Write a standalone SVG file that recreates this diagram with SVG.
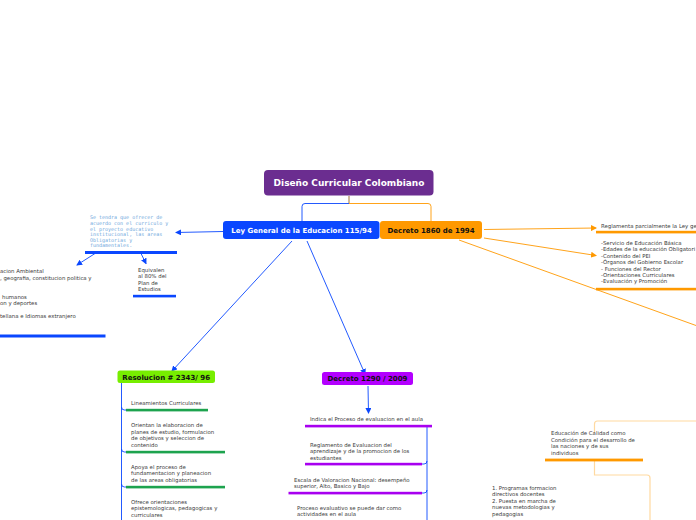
<svg xmlns="http://www.w3.org/2000/svg" width="696" height="520" viewBox="0 0 696 520">
<defs>
<style>
.t{font-family:"DejaVu Sans",Verdana,sans-serif;font-size:5.4px;fill:#3a3a3a}
.n{font-family:"DejaVu Sans",Verdana,sans-serif;font-weight:bold;font-size:7px}
.m{font-family:"DejaVu Sans Mono",monospace;font-size:5px;fill:#6fa8dc}
.bl{stroke:#0a47ff;fill:none;stroke-width:0.9}
.or{stroke:#ff9900;fill:none;stroke-width:0.9}
.lo{stroke:#ffd9a0;fill:none;stroke-width:1.2}
</style>
<marker id="ab" markerWidth="6" markerHeight="6" refX="5" refY="3" orient="auto" markerUnits="userSpaceOnUse"><path d="M0,0 L6,3 L0,6 z" fill="#0a47ff"/></marker>
<marker id="ao" markerWidth="6" markerHeight="6" refX="5" refY="3" orient="auto" markerUnits="userSpaceOnUse"><path d="M0,0 L6,3 L0,6 z" fill="#ff9900"/></marker>
</defs>
<rect width="696" height="520" fill="#fff"/>
<g id="connectors">
<path d="M349,196 V203.5" stroke="#b08a5a" stroke-width="1.2" fill="none"/>
<path class="bl" d="M349,203.5 H305 Q302,203.5 302,206.5 V221"/>
<path class="or" d="M349,203.5 H428 Q431,203.5 431,206.5 V221"/>
<path class="bl" d="M223,231.5 L176,232.5" marker-end="url(#ab)"/>
<path class="bl" d="M95,253.5 L77,265" marker-end="url(#ab)"/>
<path class="bl" d="M141,253.5 L146,263.5" marker-end="url(#ab)"/>
<path class="bl" d="M292,241 L172,371" marker-end="url(#ab)"/>
<path class="bl" d="M307,241 L365,374" marker-end="url(#ab)"/>
<path class="bl" d="M368,386 L368.5,413" marker-end="url(#ab)"/>
<path class="bl" d="M121.5,383 V520 M121.5,407 Q121.5,410 124.5,410 H126 M121.5,449 Q121.5,452 124.5,452 H126 M121.5,484 Q121.5,487 124.5,487 H126"/>
<path class="bl" d="M427,426 V520 M427,461 Q427,464 424,464 H422 M427,490 Q427,493 424,493 H422"/>
<path class="or" d="M484,229.5 L596,228" marker-end="url(#ao)"/>
<path class="or" d="M484,238 L596,255.5" marker-end="url(#ao)"/>
<path class="or" d="M459,240 L696,325.5"/>
<path class="lo" d="M594.5,433 V424 Q594.5,421 597.5,421 H696"/>
<path class="lo" d="M594.5,461 V475 H647 Q650,475 650,478 V520"/>
</g>
<g id="root">
<rect x="264" y="170" width="169.5" height="25.5" rx="4" fill="#6b2d90"/>
<text x="349" y="186.2" text-anchor="middle" class="n" style="font-size:9px" fill="#fff">Diseño Curricular Colombiano</text>
</g>
<g id="ley">
<rect x="223" y="221" width="156.5" height="18" rx="3" fill="#0a47ff"/>
<text x="301.5" y="232.6" text-anchor="middle" class="n" fill="#fff">Ley General de la Educacion 115/94</text>
</g>
<g id="decreto1860">
<rect x="380" y="221" width="102" height="18" rx="3" fill="#ff9900"/>
<text x="431" y="232.6" text-anchor="middle" class="n" fill="#111">Decreto 1860 de 1994</text>
</g>
<g id="areas">
<text class="m" x="90" y="218.5">Se tendra que ofrecer de</text>
<text class="m" x="90" y="224.8">acuerdo con el curriculo y</text>
<text class="m" x="90" y="230.5">el proyecto educativo</text>
<text class="m" x="90" y="236.2">institucional, las areas</text>
<text class="m" x="90" y="241.6">Obligatorias y</text>
<text class="m" x="90" y="246.9">fundamentales.</text>
<rect x="85" y="251" width="92" height="3" fill="#0a47ff"/>
</g>
<g id="lista-areas">
<text class="t" x="0" y="272.7">acion Ambiental</text>
<text class="t" x="0" y="280">, geografia, constitucion politica y</text>
<text class="t" x="2" y="298.8">humanos</text>
<text class="t" x="0" y="304.8">on y deportes</text>
<text class="t" x="0" y="318.4">tellana e Idiomas extranjero</text>
<rect x="0" y="334.5" width="105.5" height="3" fill="#0a47ff"/>
</g>
<g id="equivalen">
<text class="t" x="138" y="271.9">Equivalen</text>
<text class="t" x="138" y="278.2">al 80% del</text>
<text class="t" x="138" y="284.8">Plan de</text>
<text class="t" x="138" y="291">Estudios</text>
<rect x="133" y="294.8" width="43" height="2.6" fill="#0a47ff"/>
</g>
<g id="resolucion">
<rect x="117.5" y="370.5" width="97.5" height="12.5" rx="2.5" fill="#77ee00"/>
<text x="166.2" y="379.6" text-anchor="middle" class="n" fill="#111">Resolucion # 2343/ 96</text>
</g>
<g id="res-items">
<text class="t" x="131" y="404.9">Lineamientos Curriculares</text>
<rect x="126" y="408.8" width="82" height="2.6" fill="#1da34e"/>
<text class="t" x="131" y="426.9">Orientan la elaboracion de</text>
<text class="t" x="131" y="433.5">planes de estudio, formulacion</text>
<text class="t" x="131" y="440.2">de objetivos y seleccion de</text>
<text class="t" x="131" y="446.8">contenido</text>
<rect x="126" y="450.8" width="99" height="2.6" fill="#1da34e"/>
<text class="t" x="131" y="468.8">Apoya el proceso de</text>
<text class="t" x="131" y="475.2">fundamentacion y planeacion</text>
<text class="t" x="131" y="481.8">de las areas obligatorias</text>
<rect x="126" y="485.8" width="99" height="2.6" fill="#1da34e"/>
<text class="t" x="131" y="503.8">Ofrece orientaciones</text>
<text class="t" x="131" y="510.2">epistemologicas, pedagogicas y</text>
<text class="t" x="131" y="516.6">curriculares</text>
</g>
<g id="decreto1290">
<rect x="322" y="372" width="91" height="13" rx="2.5" fill="#b300ff"/>
<text x="367.5" y="381.3" text-anchor="middle" class="n" fill="#111">Decreto 1290 / 2009</text>
</g>
<g id="dec-items">
<text class="t" x="310" y="420.8">Indica el Proceso de evaluacion en el aula</text>
<rect x="305" y="424.8" width="127" height="2.6" fill="#a800f0"/>
<text class="t" x="310" y="446.8">Reglamento de Evaluacion del</text>
<text class="t" x="310" y="453.2">aprendizaje y de la promocion de los</text>
<text class="t" x="310" y="459.6">estudiantes</text>
<rect x="305" y="462.8" width="117" height="2.6" fill="#a800f0"/>
<text class="t" x="294" y="481.8">Escala de Valoracion Nacional: desempeño</text>
<text class="t" x="294" y="488.2">superior, Alto, Basico y Bajo</text>
<rect x="288.5" y="491.8" width="133.5" height="2.6" fill="#a800f0"/>
<text class="t" x="297" y="509.8">Proceso evaluativo se puede dar como</text>
<text class="t" x="297" y="516.4">actividades en el aula</text>
</g>
<g id="reglamenta">
<text class="t" x="601" y="227.8">Reglamenta parcialmente la Ley ge</text>
<rect x="596" y="230.8" width="100" height="2.6" fill="#ff9900"/>
</g>
<g id="temas">
<text class="t" x="601" y="244.8">-Servicio de Educación Básica</text>
<text class="t" x="601" y="251.2">-Edades de la educación Obligatori</text>
<text class="t" x="601" y="257.6">-Contenido del PEI</text>
<text class="t" x="601" y="264.2">-Órganos del Gobierno Escolar</text>
<text class="t" x="601" y="270.6">- Funciones del Rector</text>
<text class="t" x="601" y="277">-Orientaciones Curriculares</text>
<text class="t" x="601" y="283.4">-Evaluación y Promoción</text>
<rect x="596" y="287.8" width="100" height="2.6" fill="#ff9900"/>
</g>
<g id="calidad">
<text class="t" x="551" y="435">Educación de Calidad como</text>
<text class="t" x="551" y="441.6">Condición para el desarrollo de</text>
<text class="t" x="551" y="448.2">las naciones y de sus</text>
<text class="t" x="551" y="454.8">individuos</text>
<rect x="545" y="458.6" width="98" height="2.8" fill="#ff9900"/>
</g>
<g id="programas">
<text class="t" x="492" y="490">1. Programas formacion</text>
<text class="t" x="492" y="496.4">directivos docentes</text>
<text class="t" x="492" y="502.8">2. Puesta en marcha de</text>
<text class="t" x="492" y="509.2">nuevas metodologias y</text>
<text class="t" x="492" y="515.6">pedagogias</text>
</g>
</svg>
